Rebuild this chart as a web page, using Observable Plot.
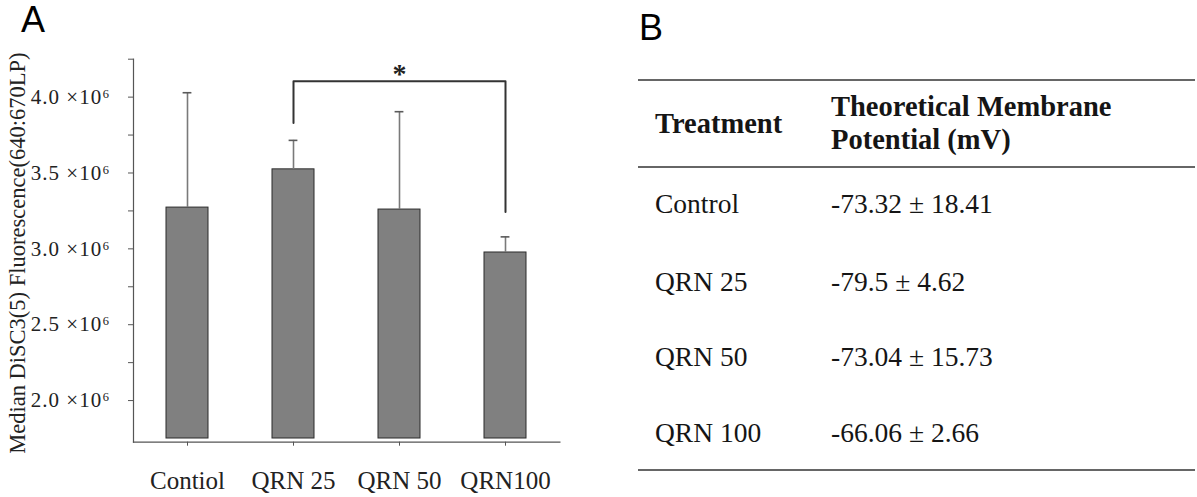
<!DOCTYPE html>
<html>
<head>
<meta charset="utf-8">
<script src="https://cdn.jsdelivr.net/npm/d3@7"></script>
<script src="https://cdn.jsdelivr.net/npm/@observablehq/plot@0.6"></script>
<style>
  html, body { margin: 0; padding: 0; background: #fff; }
  #wrap { position: relative; width: 1197px; height: 497px; overflow: hidden; background: #fff; }
  #chart { position: absolute; left: 0; top: 0; }
  .panel { position: absolute; font-family: "Liberation Sans", Arial, sans-serif; font-size: 36px; color: #000; line-height: 1; }
  .rule { position: absolute; height: 2px; background: #666; }
  .cell { position: absolute; font-family: "Liberation Serif", serif; font-size: 27.5px; color: #151515; white-space: nowrap; line-height: 34px; }
  .hdr { font-weight: bold; font-size: 28.5px; }
</style>
</head>
<body>
<div id="wrap">
  <div id="chart"></div>
  <div class="panel" style="left:21px; top:1.8px;">A</div>
  <div class="panel" style="left:639px; top:10px;">B</div>
  <div id="table"></div>
</div>
<script>
// ---- Panel A data ----
const categories = ["Contiol", "QRN 25", "QRN 50", "QRN100"];
const means = [3.272e6, 3.524e6, 3.259e6, 2.976e6];
const sds = [0.757e6, 0.191e6, 0.645e6, 0.103e6];
const yTicks = [2.0e6, 2.5e6, 3.0e6, 3.5e6, 4.0e6];
const yMinorTicks = [2.25e6, 2.75e6, 3.25e6, 3.75e6, 4.25e6];
const baseline = 1.75e6;
const yLabel = "Median DiSC3(5) Fluorescence(640:670LP)";
// significance bracket (QRN 25 vs QRN100)
const bracketX = ["QRN 25", "QRN 25", "QRN100", "QRN100"];
const bracketY = [3.829e6, 4.105e6, 4.105e6, 3.243e6];
const sigLabel = "*";

// ---- Panel B data ----
const tableHeaders = ["Treatment", "Theoretical Membrane", "Potential (mV)"];
const treatments = ["Control", "QRN 25", "QRN 50", "QRN 100"];
const potentials = ["-73.32 ± 18.41", "-79.5 ± 4.62", "-73.04 ± 15.73", "-66.06 ± 2.66"];

const data = categories.map((c, i) => ({cat: c, mean: means[i], top: means[i] + sds[i]}));
const bracket = bracketX.map((x, i) => ({x, y: bracketY[i]}));

const chart = Plot.plot({
  width: 600,
  height: 497,
  marginTop: 58.7,
  marginBottom: 55.3,
  marginLeft: 133,
  marginRight: 40.6,
  style: {fontFamily: "Liberation Serif, serif", color: "#222", background: "white", overflow: "visible"},
  x: {domain: categories, paddingInner: 0.6, paddingOuter: 0.3},
  y: {domain: [1.75e6, 4.25e6], range: [438, 58.7]},
  marks: [
    Plot.barY(data, {x: "cat", y1: baseline, y2: "mean", fill: "#808080", stroke: "#2b2b2b", strokeWidth: 1}),
    Plot.ruleX(data, {x: "cat", y1: "mean", y2: "top", stroke: "#7a7a7a", strokeWidth: 1.6}),
    Plot.tickY(data, {x: "cat", y: "top", stroke: "#5a5a5a", strokeWidth: 1.6, insetLeft: 16.6, insetRight: 16.6}),
    Plot.frame({anchor: "left", stroke: "#555", strokeWidth: 1.2}),
    Plot.frame({anchor: "bottom", stroke: "#555", strokeWidth: 1.2}),
    Plot.axisY({ticks: yTicks, tickSize: 5, tickPadding: 18, fontSize: 21, label: null, stroke: "#555",
      tickFormat: d => (d / 1e6).toFixed(1) + " \u00d710\u2076"}),
    Plot.axisY({ticks: yMinorTicks, tickSize: 5, label: null, stroke: "#555", tickFormat: () => ""}),
    Plot.axisX({tickSize: 4, tickPadding: 25, fontSize: 25, label: null, stroke: "#555"}),
    Plot.line(bracket, {x: "x", y: "y", stroke: "#333", strokeWidth: 2}),
    Plot.text([sigLabel], {x: () => "QRN 50", y: () => 4.105e6, text: d => d, fontSize: 28, fontWeight: "bold", lineAnchor: "bottom", dy: 2, fill: "#222"}),
    Plot.text([yLabel], {frameAnchor: "left", text: d => d, rotate: -90, dx: -116, dy: 2.5, fontSize: 22.5, textAnchor: "middle", lineAnchor: "middle", fill: "#222"})
  ]
});
// widen the "×10⁶" tick labels slightly, like the reference's wider typeface
chart.querySelectorAll("g[aria-label='y-axis tick label'] text").forEach(t => t.setAttribute("letter-spacing", "1"));
document.getElementById("chart").appendChild(chart);

// ---- table (panel B) ----
const tbl = document.getElementById("table");
function rule(y) {
  const d = document.createElement("div");
  d.className = "rule";
  d.style.left = "638px"; d.style.width = "557px"; d.style.top = (y - 1) + "px";
  tbl.appendChild(d);
}
function cell(text, x, cy, bold) {
  const d = document.createElement("div");
  d.className = "cell" + (bold ? " hdr" : "");
  d.textContent = text;
  d.style.left = x + "px"; d.style.top = (cy - 17.2) + "px";
  tbl.appendChild(d);
}
rule(80); rule(167); rule(470);
cell(tableHeaders[0], 655, 124, true);
cell(tableHeaders[1], 831, 107.5, true);
cell(tableHeaders[2], 831, 140.5, true);
const rowY = [204.5, 281.7, 356.7, 433.3];
treatments.forEach((t, i) => {
  cell(t, 655, rowY[i], false);
  cell(potentials[i], 831, rowY[i], false);
});
</script>
</body>
</html>
